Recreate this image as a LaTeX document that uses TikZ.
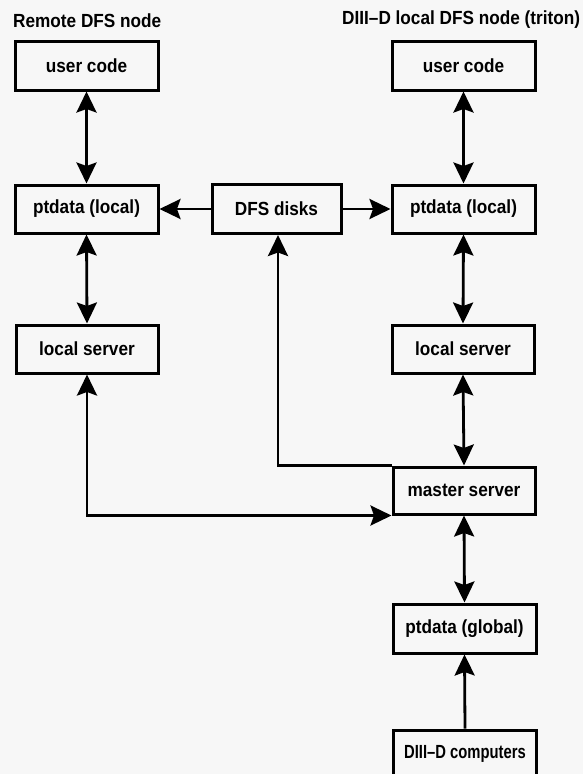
\documentclass[tikz,border=0pt]{standalone}
\usepackage{fontspec}
\setmainfont{Liberation Sans}[FakeStretch=0.905]
\usetikzlibrary{arrows.meta}
\definecolor{bgc}{RGB}{247,247,247}
\tikzset{
  box/.style={draw=black, line width=3pt, rectangle, minimum width=143pt, minimum height=48pt, inner sep=0pt, font=\fontsize{19}{21}\selectfont\bfseries},
  lbl/.style={inner sep=0pt, font=\fontsize{19}{21}\selectfont\bfseries},
  arr/.style={line width=2.8pt, ->},
  dbl/.style={line width=2.8pt, <->},
}
\begin{document}
\begin{tikzpicture}[x=1pt, y=-1pt, >={Stealth[length=21pt, width=20pt, inset=3.5pt]}]
\fill[bgc] (0,0) rectangle (583,774);
\useasboundingbox (0,0) rectangle (583,774);

\node[lbl, anchor=west] (t1) at (13,21) {Remote DFS node};
\node[lbl, anchor=west] (t2) at (342,20) {DIII–D local DFS node (triton)};

\node[box, minimum height=49pt] (uc1) at (86.5,65.5) {user code};
\node[box] (pl1) at (86.5,209) {ptdata (local)};
\node[box, minimum width=142pt] (ls1) at (87,349) {local server};
\node[box, minimum width=129pt, minimum height=49pt] (dfs) at (276.5,209) {DFS disks};

\node[box, minimum height=49pt] (uc2) at (463.5,65.5) {user code};
\node[box] (pl2) at (463.5,209) {ptdata (local)};
\node[box, minimum width=142pt] (ls2) at (463,349) {local server};
\node[box, minimum width=142pt, minimum height=47pt] (ms) at (464,490.5) {master server};
\node[box, minimum height=49pt] (pg) at (464.5,628.5) {ptdata (global)};
\node[box, minimum width=143pt] (dc) at (465,754) {\scalebox{0.86}[1]{DIII–D computers}};

\draw[dbl] (uc1.south) -- (pl1.north);
\draw[dbl] (pl1.south) -- (ls1.north);
\draw[arr] (dfs.west) -- (pl1.east);
\draw[arr] (dfs.east) -- (pl2.west);
\draw[dbl] (uc2.south) -- (pl2.north);
\draw[dbl] (pl2.south) -- (ls2.north);
\draw[dbl] (ls2.south) -- (ms.north);
\draw[dbl] (ls1.south) |- (ms.south west);
\draw[arr] (ms.north west) -| ([xshift=1.5pt]dfs.south);
\draw[dbl] (ms.south) -- (pg.north);
\draw[arr] (dc.north) -- (pg.south);
\end{tikzpicture}
\end{document}
